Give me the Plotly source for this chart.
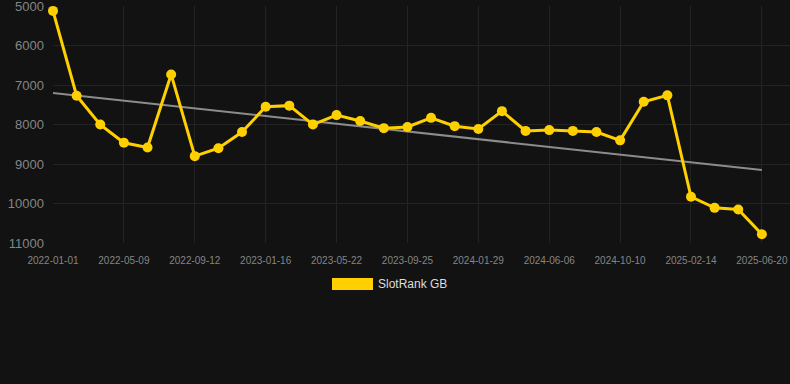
import plotly.graph_objects as go

# Categories (every ~6 weeks); labelled ones, others estimated
dates = [
    "2022-01-01", "2022-02-13", "2022-03-28",
    "2022-05-09", "2022-06-20", "2022-08-01",
    "2022-09-12", "2022-10-24", "2022-12-05",
    "2023-01-16", "2023-02-27", "2023-04-10",
    "2023-05-22", "2023-07-03", "2023-08-14",
    "2023-09-25", "2023-11-06", "2023-12-18",
    "2024-01-29", "2024-03-12", "2024-04-25",
    "2024-06-06", "2024-07-18", "2024-08-29",
    "2024-10-10", "2024-11-21", "2025-01-03",
    "2025-02-14", "2025-03-28", "2025-05-09",
    "2025-06-20",
]
tick_labels = dates[::3]

rank = [5120, 7270, 8000, 8460, 8580, 6730, 8800, 8600, 8190, 7550,
        7520, 8000, 7760, 7910, 8090, 8060, 7830, 8040, 8110, 7660,
        8160, 8140, 8160, 8190, 8400, 7420, 7260, 9830, 10110, 10150,
        10780]

trend_x = [dates[0], dates[-1]]
trend_y = [7200, 9150]

y_ticks = [5000, 6000, 7000, 8000, 9000, 10000, 11000]
y_tick_text = [str(v) for v in y_ticks]

BG = "#121212"
GRID = "#232323"
TICK = "#858585"
GOLD = "#FFD000"

fig = go.Figure()
fig.add_trace(go.Scatter(
    x=trend_x, y=trend_y, mode="lines",
    line=dict(color="#8c8c8c", width=2),
    showlegend=False, hoverinfo="skip",
))
fig.add_trace(go.Scatter(
    x=dates, y=rank, mode="lines+markers", name="SlotRank GB",
    line=dict(color=GOLD, width=3),
    marker=dict(color=GOLD, size=10),
    cliponaxis=False, showlegend=False,
))

W, H = 790, 384
L, R, T, B = 53, 0, 6, 141
fig.update_layout(
    width=W, height=H,
    margin=dict(l=L, r=R, t=T, b=B, pad=0, autoexpand=False),
    paper_bgcolor=BG, plot_bgcolor=BG,
    font=dict(family="Liberation Sans, Arial, sans-serif", color=TICK),
    showlegend=False,
)
fig.update_xaxes(
    type="category", categoryorder="array", categoryarray=dates,
    range=[0, 31.19], automargin=False,
    tickvals=tick_labels, ticktext=tick_labels,
    showgrid=True, gridcolor=GRID, gridwidth=1,
    zeroline=False, showline=False, ticks="",
    ticklabelstandoff=10, ticklabeloverflow="allow",
    tickfont=dict(size=10, color=TICK),
)
fig.update_yaxes(
    range=[11000, 4996], tickvals=y_ticks, ticktext=y_tick_text,
    automargin=False,
    showgrid=True, gridcolor=GRID, gridwidth=1,
    zeroline=False, showline=False, ticks="",
    ticklabelstandoff=8, ticklabeloverflow="allow",
    tickfont=dict(size=13, color=TICK),
)

# manual legend
PW = W - L - R
PH = H - T - B
fig.add_shape(type="rect", xref="paper", yref="paper",
              x0=(332 - L) / PW, x1=(373 - L) / PW,
              y0=(H - B - 290) / PH, y1=(H - B - 278) / PH,
              fillcolor=GOLD, line=dict(width=0))
fig.add_annotation(xref="paper", yref="paper",
                   x=(376 - L) / PW, y=(H - B - 284) / PH,
                   text="SlotRank GB", showarrow=False,
                   xanchor="left", yanchor="middle",
                   font=dict(size=12, color="#dddddd"))

fig.write_html(
    "out.html",
    config={"displayModeBar": False},
    post_script="document.body.style.margin='0';document.body.style.background='#121212';document.body.style.overflow='hidden';",
)
